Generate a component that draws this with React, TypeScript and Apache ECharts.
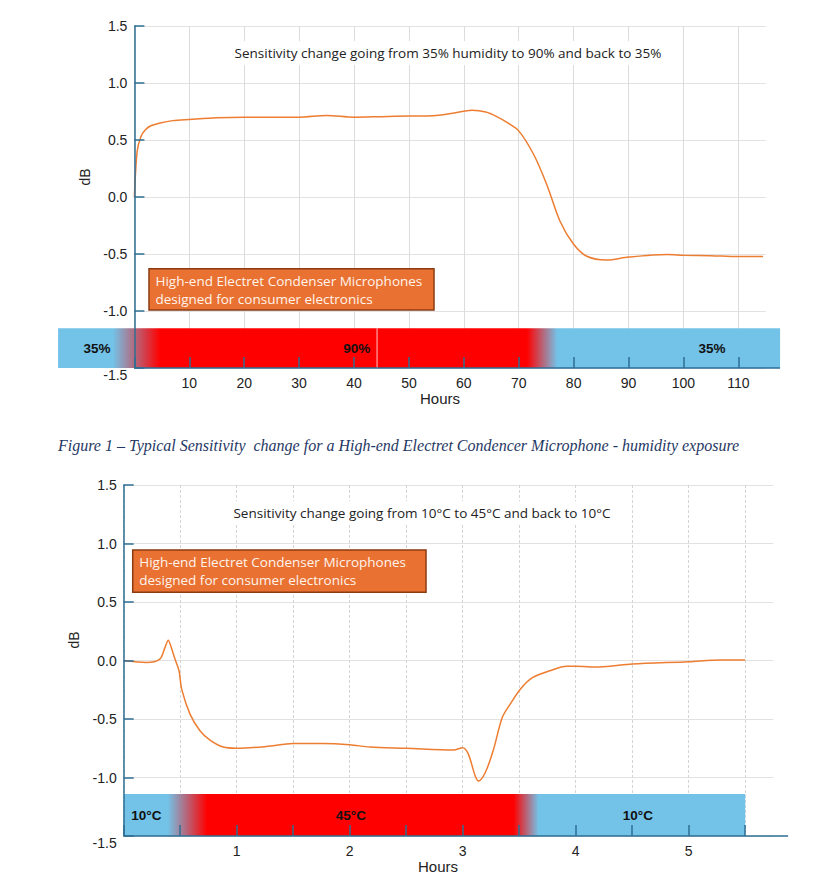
import React, { useEffect, useRef } from "react";
import * as echarts from "echarts";

// ---------- data: humidity test (hours, dB) ----------
const humidityHours = [0, 0.5, 1.2, 2, 3, 4.7, 7, 10, 15, 20, 25, 30, 35, 40, 45, 50, 54.4, 58, 61.5, 64, 66, 68, 70, 72.7, 75.1, 77.5, 80, 82.4, 86, 90, 97, 100, 105, 110, 114.5];
const humidityDb = [0, 0.4, 0.53, 0.59, 0.625, 0.65, 0.67, 0.68, 0.695, 0.7, 0.7, 0.7, 0.715, 0.7, 0.705, 0.71, 0.713, 0.735, 0.76, 0.745, 0.705, 0.65, 0.58, 0.375, 0.11, -0.21, -0.415, -0.52, -0.553, -0.527, -0.505, -0.51, -0.515, -0.523, -0.523];

// ---------- data: temperature test (hours, dB) ----------
const tempHours = [0, 0.2, 0.32, 0.365, 0.395, 0.416, 0.454, 0.49, 0.513, 0.587, 0.675, 0.764, 0.88, 1.0, 1.26, 1.5, 1.76, 2.0, 2.18, 2.5, 2.92, 3.0, 3.05, 3.11, 3.14, 3.2, 3.27, 3.35, 3.42, 3.51, 3.62, 3.77, 3.92, 4.0, 4.21, 4.5, 5.0, 5.28, 5.5];
const tempDb = [0, -0.017, 0.012, 0.11, 0.174, 0.126, 0.012, -0.088, -0.245, -0.458, -0.6, -0.68, -0.74, -0.75, -0.735, -0.71, -0.71, -0.72, -0.74, -0.75, -0.765, -0.745, -0.8, -0.985, -1.03, -0.957, -0.77, -0.487, -0.373, -0.245, -0.145, -0.088, -0.05, -0.05, -0.055, -0.03, -0.01, 0.005, 0.005];

// ---------- condition bands ----------
const humidityPhaseLabels = ["35%", "90%", "35%"];
const humidityPhaseLabelHours = [-6.8, 40.5, 105.2];
const humidityBandRange = [-13.9, 117.6];
const humidityRamps = [[-3.9, 4.7], [71.5, 77]];
const humidityBandTop = -1.152;
const humidityMarkHour = 44.2;

const tempPhaseLabels = ["10°C", "45°C", "10°C"];
const tempPhaseLabelHours = [0.2, 2.01, 4.55];
const tempBandRange = [0, 5.5];
const tempRamps = [[0.39, 0.74], [3.45, 3.67]];
const tempBandTop = -1.142;

// ---------- axes ----------
const humidityTickHours = [0, 10, 20, 30, 40, 50, 60, 70, 80, 90, 100, 110];
const humidityLabelHours = [10, 20, 30, 40, 50, 60, 70, 80, 90, 100, 110];
const tempTickHours = [0, 0.5, 1, 1.5, 2, 2.5, 3, 3.5, 4, 4.5, 5, 5.5];
const tempLabelHours = [1, 2, 3, 4, 5];

const AXIS = "#2F6E93";
const BLUE = "#73C2E8";
const RED = "#FF0000";
const ORANGE = "#ED7D31";
const TICKFONT = "Liberation Sans";
const TEXTFONT = "Open Sans";

function bandRenderer(
  range: number[],
  ramps: number[][],
  top: number,
  labels: string[],
  labelHours: number[],
  axisEnd: number,
  markHour: number | null
) {
  return (params: any, api: any) => {
    const p0 = api.coord([range[0], top]);
    const p1 = api.coord([range[1], -1.5]);
    const w = p1[0] - p0[0];
    const off = (h: number) => Math.min(1, Math.max(0, (api.coord([h, 0])[0] - p0[0]) / w));
    const stops = [
      { offset: 0, color: BLUE },
      { offset: off(ramps[0][0]), color: BLUE },
      { offset: off(ramps[0][1]), color: RED },
      { offset: off(ramps[1][0]), color: RED },
      { offset: off(ramps[1][1]), color: BLUE },
      { offset: 1, color: BLUE },
    ];
    const children: any[] = [
      {
        type: "rect",
        shape: { x: p0[0], y: p0[1], width: w, height: p1[1] - p0[1] },
        style: { fill: new echarts.graphic.LinearGradient(0, 0, 1, 0, stops) },
      },
    ];
    if (markHour !== null) {
      const m = api.coord([markHour, 0])[0];
      children.push({
        type: "line",
        shape: { x1: m, y1: p0[1], x2: m, y2: p1[1] },
        style: { stroke: "#ffffff", lineWidth: 0.8 },
      });
    }
    labels.forEach((t, i) => {
      const c = api.coord([labelHours[i], (top - 1.5) / 2 - 0.005]);
      children.push({
        type: "text",
        x: c[0],
        y: c[1],
        style: {
          text: t,
          fill: "#111",
          fontSize: 13.5,
          fontWeight: "bold",
          fontFamily: TICKFONT,
          align: "center",
          verticalAlign: "middle",
        },
      });
    });
    const a0 = api.coord([0, -1.5]);
    const a1 = api.coord([axisEnd, -1.5]);
    children.push({
      type: "line",
      shape: { x1: a0[0], y1: a0[1], x2: a1[0], y2: a1[1] },
      style: { stroke: AXIS, lineWidth: 1.5 },
    });
    return { type: "group", children };
  };
}

function makeXAxes(gridIndex: number, max: number, interval: number, ticks: number[], labels: number[], dashed: boolean) {
  return [
    {
      type: "value",
      gridIndex,
      min: 0,
      max,
      interval,
      position: "bottom",
      z: 0,
      axisLine: { show: false, onZero: false },
      axisTick: { show: false, customValues: ticks },
      axisLabel: { show: false },
      splitLine: { show: true, lineStyle: { color: dashed ? "#d4d4d4" : "#dcdcdc", width: 1, type: dashed ? [3, 2] : "solid" } },
    },
    {
      type: "value",
      gridIndex,
      min: 0,
      max,
      interval,
      position: "bottom",
      z: 10,
      axisLine: { show: false, onZero: false },
      axisTick: { show: true, inside: true, length: 11, customValues: ticks, lineStyle: { color: AXIS, width: 1.5 } },
      axisLabel: {
        show: true,
        customValues: labels,
        margin: 8,
        color: "#222",
        fontSize: 14,
        fontFamily: TICKFONT,
        formatter: (v: number) => String(v),
      },
      splitLine: { show: false },
    },
  ];
}

function makeYAxes(gridIndex: number) {
  return [
    {
      type: "value",
      gridIndex,
      min: -1.5,
      max: 1.5,
      interval: 0.5,
      position: "left",
      offset: 0,
      z: 0,
      axisLine: { show: false, onZero: false },
      axisTick: { show: false },
      axisLabel: { show: false },
      splitLine: { show: true, lineStyle: { color: "#e2e2e2", width: 1 } },
    },
    {
      type: "value",
      gridIndex,
      min: -1.5,
      max: 1.5,
      interval: 0.5,
      position: "left",
      offset: 0,
      z: 10,
      axisLine: { show: true, onZero: false, lineStyle: { color: AXIS, width: 1.5 } },
      axisTick: { show: true, inside: true, length: 10, lineStyle: { color: AXIS, width: 1.5 } },
      axisLabel: {
        show: true,
        margin: 7,
        color: "#222",
        fontSize: 14,
        fontFamily: TICKFONT,
        formatter: (v: number) => (v === -1.5 ? "{low|" + v.toFixed(1) + "}" : v.toFixed(1)),
        rich: {
          low: { color: "#222", fontSize: 14, fontFamily: TICKFONT, padding: [13, 0, 0, 0] },
        },
      },
      splitLine: { show: false },
    },
  ];
}

function boxGraphic(x: number, y: number, w: number, h: number) {
  return [
    {
      type: "rect",
      z: 100,
      shape: { x, y, width: w, height: h },
      style: { fill: "#E97132", stroke: "#8A3B12", lineWidth: 1.5 },
    },
    {
      type: "text",
      z: 101,
      x: x + 6.5,
      y: y + 12,
      style: {
        text: "High-end Electret Condenser Microphones",
        fill: "#FFF4EC",
        fontSize: 13.5,
        fontFamily: TEXTFONT,
        verticalAlign: "middle",
      },
    },
    {
      type: "text",
      z: 101,
      x: x + 6.5,
      y: y + 30,
      style: {
        text: "designed for consumer electronics",
        fill: "#FFF4EC",
        fontSize: 13.5,
        fontFamily: TEXTFONT,
        verticalAlign: "middle",
      },
    },
  ];
}

function titleGraphic(cx: number, cy: number, text: string) {
  return {
    type: "text",
    z: 100,
    x: cx,
    y: cy,
    style: {
      text,
      fill: "#222",
      fontSize: 13.5,
      fontFamily: TEXTFONT,
      align: "center",
      verticalAlign: "middle",
      backgroundColor: "#ffffff",
      padding: [5, 6],
    },
  };
}

function plainText(x: number, y: number, text: string, size: number, rotation = 0) {
  return {
    type: "text",
    z: 100,
    x,
    y,
    rotation,
    style: {
      text,
      fill: "#222",
      fontSize: size,
      fontFamily: TICKFONT,
      align: "center",
      verticalAlign: "middle",
    },
  };
}

export default function App() {
  const ref = useRef<HTMLDivElement>(null);
  useEffect(() => {
    if (!ref.current) return;
    const chart = echarts.init(ref.current, undefined, { renderer: "svg" });
    const humidityData = humidityHours.map((h, i) => [h, humidityDb[i]]);
    const tempData = tempHours.map((h, i) => [h, tempDb[i]]);

    const option: any = {
      animation: false,
      backgroundColor: "#ffffff",
      grid: [
        { left: 134.4, top: 26, width: 631.4, height: 342, outerBoundsMode: "none", containLabel: false },
        { left: 123.7, top: 485, width: 649.75, height: 351, outerBoundsMode: "none", containLabel: false },
      ],
      xAxis: [
        ...makeXAxes(0, 115, 10, humidityTickHours, humidityLabelHours, false),
        ...makeXAxes(1, 5.75, 0.5, tempTickHours, tempLabelHours, true),
      ],
      yAxis: [...makeYAxes(0), ...makeYAxes(1)],
      series: [
        {
          type: "custom",
          xAxisIndex: 0,
          yAxisIndex: 0,
          clip: false,
          z: 3,
          silent: true,
          data: [[0, 0]],
          renderItem: bandRenderer(humidityBandRange, humidityRamps, humidityBandTop, humidityPhaseLabels, humidityPhaseLabelHours, 117.6, humidityMarkHour),
        },
        {
          type: "custom",
          xAxisIndex: 2,
          yAxisIndex: 2,
          clip: false,
          z: 3,
          silent: true,
          data: [[0, 0]],
          renderItem: bandRenderer(tempBandRange, tempRamps, tempBandTop, tempPhaseLabels, tempPhaseLabelHours, 5.88, null),
        },
        {
          type: "line",
          xAxisIndex: 0,
          yAxisIndex: 0,
          data: humidityData,
          smooth: 0.3,
          showSymbol: false,
          z: 4,
          lineStyle: { color: ORANGE, width: 1.5 },
        },
        {
          type: "line",
          xAxisIndex: 2,
          yAxisIndex: 2,
          data: tempData,
          smooth: 0.3,
          showSymbol: false,
          z: 4,
          lineStyle: { color: ORANGE, width: 1.5 },
        },
      ],
      graphic: [
        titleGraphic(448, 53, "Sensitivity change going from 35% humidity to 90% and back to 35%"),
        titleGraphic(422, 513, "Sensitivity change going from 10°C to 45°C and back to 10°C"),
        ...boxGraphic(149, 268.7, 285, 41.3),
        ...boxGraphic(132.7, 550, 293.3, 42.3),
        plainText(85, 177, "dB", 14, Math.PI / 2),
        plainText(74, 640, "dB", 14, Math.PI / 2),
        plainText(440, 398, "Hours", 15),
        plainText(438, 866, "Hours", 15),
        {
          type: "text",
          z: 100,
          x: 58,
          y: 445,
          style: {
            text: "Figure 1 – Typical Sensitivity  change for a High-end Electret Condencer Microphone - humidity exposure",
            fill: "#1F3864",
            fontSize: 16,
            fontStyle: "italic",
            fontFamily: "Liberation Serif",
            verticalAlign: "middle",
          },
        },
      ],
    };
    chart.setOption(option);
    return () => chart.dispose();
  }, []);
  return (
    <div
      ref={ref}
      style={{ position: "fixed", left: 0, top: 0, width: 819, height: 885, background: "#fff" }}
    />
  );
}
